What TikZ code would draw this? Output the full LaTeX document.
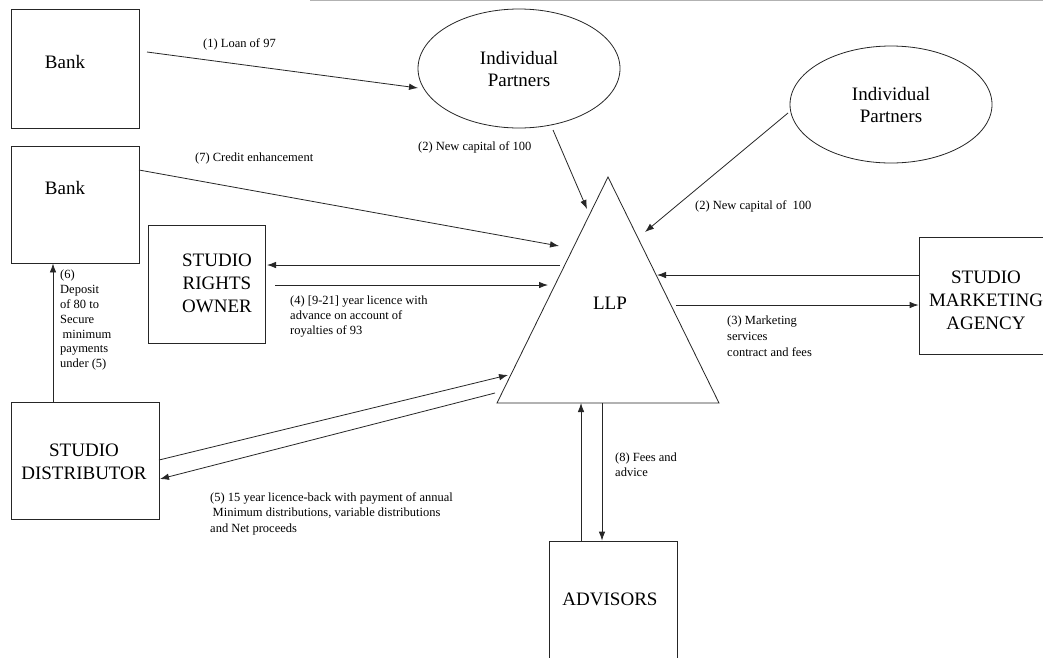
\documentclass[tikz,border=0pt]{standalone}
\usepackage{fontspec}
\setmainfont{Liberation Serif}
\usetikzlibrary{shapes.geometric,arrows.meta}
\begin{document}
\begin{tikzpicture}[x=1pt,y=-1pt,
  ln/.style={line width=0.8pt, draw=black!85},
  box/.style={ln, draw, rectangle, inner sep=0pt},
  oval/.style={ln, draw, ellipse, inner sep=0pt, align=center, font=\fontsize{19}{22}\selectfont},
  big/.style={font=\fontsize{19}{23}\selectfont, align=center, inner sep=0pt},
  small/.style={font=\fontsize{12.5}{15}\selectfont, align=left, inner sep=0pt, anchor=north west},
  arr/.style={ln, -{Latex[length=9pt,width=6.5pt]}}]
\useasboundingbox (0,0) rectangle (1043,657);
\clip (0,0) rectangle (1043,657);
\fill[white] (0,0) rectangle (1043,657);
\coordinate (tl) at (310,0.6);
\coordinate (tr) at (1043,0.6);
\draw[black!30, line width=0.8pt] (tl) -- (tr);

% boxes
\node[box, minimum width=128pt, minimum height=119pt] (bank1) at (75,68.5) {};
\node[big] (bank1t) at (65,62) {Bank};
\node[box, minimum width=128pt, minimum height=117pt] (bank2) at (75,204.5) {};
\node[big] (bank2t) at (65,188) {Bank};
\node[box, minimum width=117pt, minimum height=118pt] (sro) at (206.5,284) {};
\node[big] (srot) at (217,283) {STUDIO\\RIGHTS\\OWNER};
\node[box, minimum width=131pt, minimum height=117pt] (sma) at (984.5,295.5) {};
\node[big] (smat) at (986,300) {STUDIO\\MARKETING\\AGENCY};
\node[box, minimum width=148pt, minimum height=117pt] (dist) at (85,460.5) {};
\node[big] (distt) at (84,462) {STUDIO\\DISTRIBUTOR};
\node[box, minimum width=128pt, minimum height=149pt] (adv) at (613,615.5) {};
\node[big] (advt) at (610,599) {ADVISORS};

% ellipses
\node[oval, minimum width=202pt, minimum height=119pt] (ip1) at (519,68.5) {Individual\\Partners};
\node[oval, minimum width=202pt, minimum height=117pt] (ip2) at (891,104.5) {Individual\\Partners};

% triangle LLP
\coordinate (llpL) at (497,403);
\coordinate (llpR) at (719,403);
\coordinate (llpT) at (608,177);
\draw[ln, line join=miter] (llpL) -- (llpR) -- (llpT) -- cycle;
\node[big] (llp) at (610,303) {LLP};

% connector ends
\coordinate (c1s) at (147,52);   \coordinate (c1e) at (418,88);
\coordinate (c2s) at (553,130);  \coordinate (c2e) at (587,209);
\coordinate (c3s) at (788,113);  \coordinate (c3e) at (645,232);
\coordinate (c4s) at (139,170);  \coordinate (c4e) at (559,246);
\coordinate (c5s) at (560,265);  \coordinate (c5e) at (267,265);
\coordinate (c6s) at (275,285);  \coordinate (c6e) at (548,285);
\coordinate (c7e) at (657,275);
\coordinate (c8s) at (676,305);
\coordinate (c9s) at (159,460);  \coordinate (c9e) at (508,375);
\coordinate (c10s) at (495,393); \coordinate (c10e) at (160,479);
\coordinate (c11) at (53,402);
\coordinate (c12) at (581,403);
\coordinate (c13) at (602,403);

\draw[arr] (c1s) -- (c1e);
\draw[arr] (c2s) -- (c2e);
\draw[arr] (c3s) -- (c3e);
\draw[arr] (c4s) -- (c4e);
\draw[arr] (c5s) -- (c5e);
\draw[arr] (c6s) -- (c6e);
\draw[arr] (c7e -| sma.west) -- (c7e);
\draw[arr] (c8s) -- (c8s -| sma.west);
\draw[arr] (c9s) -- (c9e);
\draw[arr] (c10s) -- (c10e);
\draw[arr] (c11) -- (c11 |- bank2.south);
\draw[arr] (c12 |- adv.north) -- (c12);
\draw[arr] (c13) -- (c13 |- adv.north);

% labels
\node[small] (l1) at (203,38) {(1) Loan of 97};
\node[small] (l7) at (195,153) {(7) Credit enhancement};
\node[small] (l2a) at (418,141) {(2) New capital of 100};
\node[small] (l2b) at (695,200) {(2) New capital of \ 100};
\node[small] (l4) at (290,296) {(4) [9-21] year licence with\\advance on account of\\royalties of 93};
\node[small, font=\fontsize{12.5}{16}\selectfont] (l3) at (727,316) {(3) Marketing\\services\\contract and fees};
\node[small, font=\fontsize{12.5}{14.8}\selectfont] (l6) at (60,270) {(6)\\Deposit\\of 80 to\\Secure\\\hspace*{2.5pt}minimum\\payments\\under (5)};
\node[small, font=\fontsize{12.5}{15.5}\selectfont] (l5) at (210,492) {(5) 15 year licence-back with payment of annual\\\hspace*{2.5pt}Minimum distributions, variable distributions\\and Net proceeds};
\node[small] (l8) at (615,453) {(8) Fees and\\advice};
\end{tikzpicture}
\end{document}
